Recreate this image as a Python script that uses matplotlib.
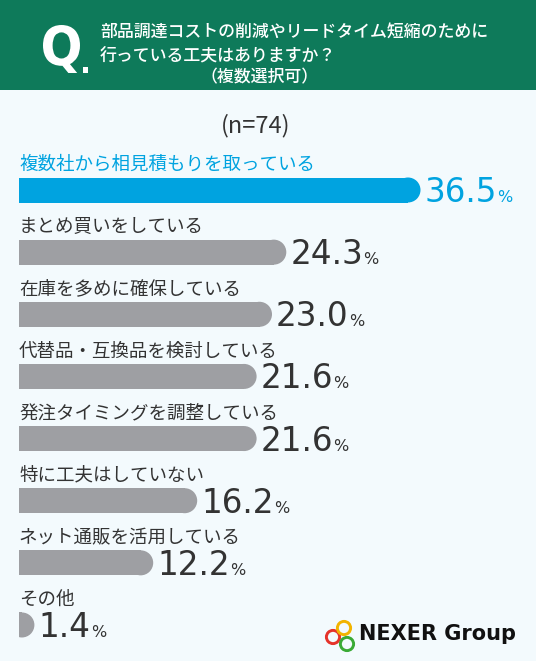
import matplotlib
matplotlib.use('Agg')
import matplotlib.pyplot as plt
from matplotlib.patches import Rectangle, Ellipse, Circle, PathPatch
from matplotlib.textpath import TextPath
from matplotlib.font_manager import FontProperties
from matplotlib.transforms import Affine2D

plt.rcParams['font.family'] = ['Noto Sans CJK JP', 'DejaVu Sans']

# ---------------- data ----------------
categories = ['複数社から相見積もりを取っている', 'まとめ買いをしている', '在庫を多めに確保している',
              '代替品・互換品を検討している', '発注タイミングを調整している', '特に工夫はしていない',
              'ネット通販を活用している', 'その他']
values = [36.5, 24.3, 23.0, 21.6, 21.6, 16.2, 12.2, 1.4]
value_labels = ['36.5', '24.3', '23.0', '21.6', '21.6', '16.2', '12.2', '1.4']
title_lines = ['部品調達コストの削減やリードタイム短縮のために', '行っている工夫はありますか？']
title_note = '（複数選択可）'
sample_label = '(n=74)'
brand = 'NEXER Group'

# ---------------- style ----------------
BG = '#F3FAFD'
GREEN = '#0E7A5A'
BLUE = '#00A3E0'
GRAY = '#9E9FA3'
DARK = '#333333'

W, H, DPI = 536, 661, 100
fig = plt.figure(figsize=(W / DPI, H / DPI), dpi=DPI)
fig.patch.set_facecolor(BG)

# decoration axes in pixel units
deco = fig.add_axes([0, 0, 1, 1])
deco.set_xlim(0, W)
deco.set_ylim(H, 0)
deco.axis('off')
deco.add_patch(Rectangle((0, 0), W, 90, color=GREEN, lw=0))

# "Q."
tp = TextPath((0, 0), 'Q', size=60, prop=FontProperties(family='DejaVu Sans', weight='bold'))
ext = tp.get_extents()
qx0, qx1, qy0, qy1 = 43, 80, 25, 73
tr = (Affine2D().translate(-ext.x0, -ext.y0)
      .scale((qx1 - qx0) / ext.width, -(qy1 - qy0) / ext.height)
      .translate(qx0, qy1))
deco.add_patch(PathPatch(tr.transform_path(tp), color='white', lw=0))
deco.add_patch(Rectangle((83, 67), 5, 6, color='white', lw=0))

deco.text(100, 32, title_lines[0], color='white', fontsize=12.2, fontweight='medium',
          va='center', ha='left')
deco.text(100, 55, title_lines[1], color='white', fontsize=12.2, fontweight='medium',
          va='center', ha='left')
deco.text(260, 77, title_note, color='white', fontsize=12.2, fontweight='medium',
          va='center', ha='center')

deco.text(256, 126, sample_label, color=DARK, fontsize=17, va='center', ha='center')

# logo
for (cx, cy), col in [((333, 637), '#E5332A'), ((344, 628), '#F2B400'), ((347, 644), '#3AAA35')]:
    deco.add_patch(Circle((cx, cy), 6.6, fill=False, ec=col, lw=2.1))
deco.text(359, 640, brand, fontsize=15, fontweight='bold', family='DejaVu Sans',
          color='#111111', va='baseline', ha='left')

# ---------------- bars ----------------
PX_PER = 11.0
LEFT = 19
ROW0 = 190
ROWSTEP = 62.14
TOP = 140
ax = fig.add_axes([LEFT / W, 0, (W - LEFT) / W, (H - TOP) / H])
ax.set_xlim(0, (W - LEFT) / PX_PER)
ax.set_ylim((H - ROW0) / ROWSTEP, (TOP - ROW0) / ROWSTEP)
ax.axis('off')
ax.patch.set_alpha(0)

bh = 25 / ROWSTEP
rx = 12.5 / PX_PER

num_texts = []
for i, (cat, v, lab) in enumerate(zip(categories, values, value_labels)):
    c = BLUE if i == 0 else GRAY
    tc = BLUE if i == 0 else DARK
    body = max(v - rx, 0)
    ax.barh(i, body, height=bh, left=0, color=c, lw=0)
    ax.add_patch(Ellipse((body, i), 2 * min(rx, v), bh, color=c, lw=0))
    ax.text(0, i - 25 / ROWSTEP, cat, color=tc, fontsize=13.3, va='center', ha='left')
    t = ax.text(v + 4 / PX_PER, i + 12 / ROWSTEP, lab, color=tc, fontsize=23.5,
                family='DejaVu Sans', va='baseline', ha='left')
    num_texts.append((t, i, tc))

fig.canvas.draw()
inv = ax.transData.inverted()
for t, i, tc in num_texts:
    bb = t.get_window_extent()
    x1 = inv.transform((bb.x1, bb.y0))[0]
    ax.text(x1 + 0.3 / PX_PER, i + 12 / ROWSTEP, '%', color=tc, fontsize=11.5,
            family='DejaVu Sans', va='baseline', ha='left')

fig.savefig('out.png', dpi=DPI, facecolor=BG)
